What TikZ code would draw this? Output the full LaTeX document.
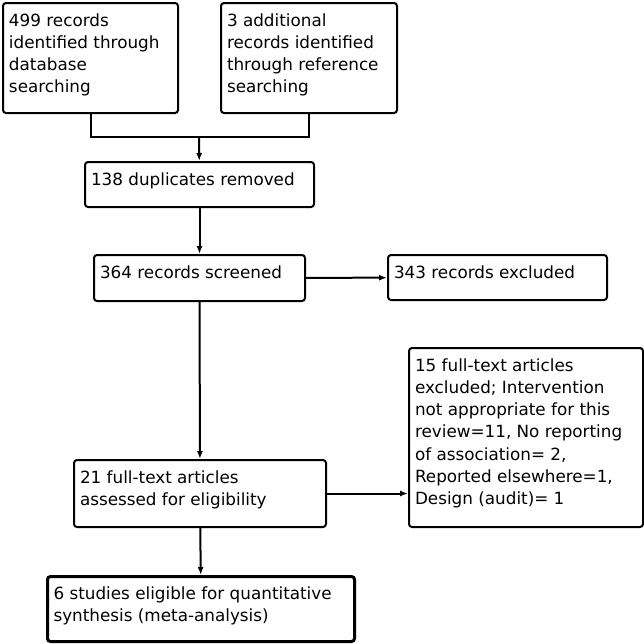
\documentclass[tikz,border=0pt]{standalone}
\usepackage{fontspec}
\setmainfont{DejaVu Sans}
\usepackage{tikz}
\usetikzlibrary{arrows.meta}

% text of a flow box: box width, box height, lines
\newcommand{\fbtext}[3]{\parbox[t][#2pt][t]{\dimexpr#1pt-12pt\relax}{\raggedright\rule{0pt}{23pt}#3}}

\tikzset{
  fbox/.style={draw, rounded corners=3pt, line width=2pt, anchor=north west,
    inner xsep=6pt, inner ysep=0pt, font=\fontsize{16.8}{22.3}\selectfont},
  fboxbold/.style={fbox, line width=3pt},
  link/.style={line width=2pt},
  arr/.style={link, -{Latex[length=8pt,width=6pt]}}
}

\begin{document}
\begin{tikzpicture}[x=1pt,y=-1pt]
		\useasboundingbox (0,0) rectangle (644,643);
		%
		\node[fbox] (rec) at (2,2) {\fbtext{175}{110}{499 records\\identified through\\database\\searching}};
		\node[fbox] (add) at (220,2) {\fbtext{176}{110}{3 additional\\records identified\\through reference\\searching}};
		\node[fbox] (dup) at (84,161) {\fbtext{229}{45}{138 duplicates removed}};
		\node[fbox] (scr) at (93,254) {\fbtext{211}{46}{364 records screened}};
		\node[fbox] (exc) at (387,254) {\fbtext{219}{45}{343 records excluded}};
		\node[fbox] (ftx) at (408,347) {\fbtext{234}{179}{15 full-text articles\\excluded; Intervention\\not appropriate for this\\review=11, No reporting\\of association= 2,\\Reported elsewhere=1,\\Design (audit)= 1}};
		\node[fbox] (ass) at (73,459) {\fbtext{252}{67}{21 full-text articles\\assessed for eligibility}};
		\node[fboxbold] (inc) at (46,575) {\fbtext{307}{65}{6 studies eligible for quantitative\\synthesis (meta-analysis)}};
		\coordinate (m) at (199,137);
		%
		\draw[link] (rec.south) |- (m) -| (add.south);
		\draw[arr] (m) -- (dup);
		\draw[arr] (dup) -- (scr);
		\draw[arr] (scr) -- (exc);
		\draw[arr] (scr) -- (ass);
		\draw[arr] (ass.east) -- (ass.east -| ftx.west);
		\draw[arr] (ass) -- (inc);
\end{tikzpicture}
\end{document}
